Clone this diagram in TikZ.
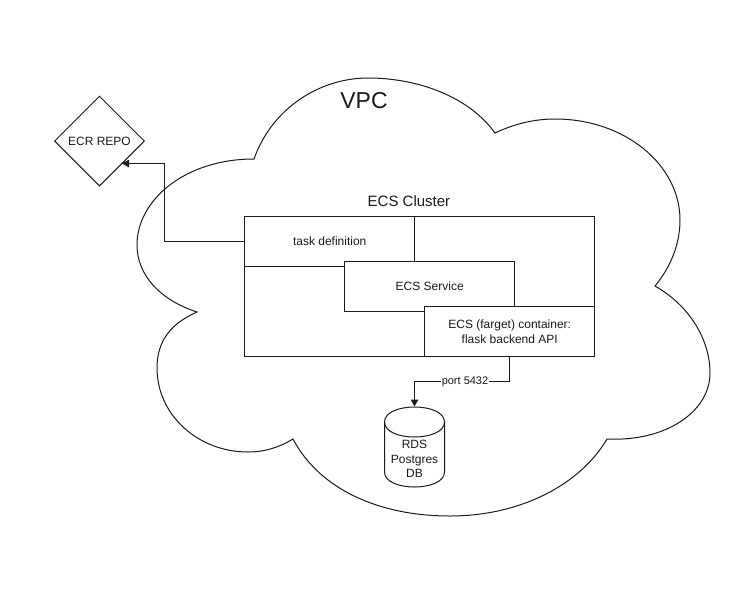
\documentclass[tikz,border=0pt]{standalone}
\usepackage{fontspec}
\setmainfont{Liberation Sans}
\usetikzlibrary{arrows.meta,shapes.geometric}
\definecolor{ink}{HTML}{1A1A1A}
\tikzset{
 x=1pt,y=-1pt,
 line/.style={draw=ink,line width=1pt},
 box/.style={line,fill=white,inner sep=0pt,text=ink,font=\fontsize{12}{15}\selectfont,align=center},
 lbl/.style={inner sep=0pt,text=ink},
 tip/.style={-{Triangle[length=7pt,width=7.5pt]}}
}
\begin{document}
\begin{tikzpicture}
\useasboundingbox (0,0) rectangle (737,598);
% cloud
\draw[line] (254,159)
 .. controls (272,108) and (320,78) .. (368,78)
 .. controls (420,78) and (470,98) .. (495,133)
 .. controls (514,124) and (534,119) .. (555,119)
 .. controls (625,119) and (680,165) .. (680,220)
 .. controls (680,245) and (670,268) .. (655,286)
 .. controls (690,306) and (710,340) .. (710,373)
 .. controls (710,412) and (665,442) .. (607,439)
 .. controls (580,485) and (520,516) .. (450,516)
 .. controls (380,516) and (320,490) .. (293,439)
 .. controls (280,447) and (265,452) .. (248,452)
 .. controls (198,452) and (157,415) .. (157,368)
 .. controls (157,340) and (172,323) .. (197,312)
 .. controls (160,300) and (137,275) .. (137,245)
 .. controls (137,200) and (185,159) .. (254,159) -- cycle;
\node[lbl,font=\fontsize{23}{26}\selectfont] (vpc) at (364,101) {VPC};
\node[lbl,font=\fontsize{15}{18}\selectfont] (clusterlabel) at (409,201.5) {ECS Cluster};
% cluster
\node[box,minimum width=350pt,minimum height=140pt,anchor=north west] (cluster) at (244.2,216) {};
\node[box,minimum width=170pt,minimum height=50pt,anchor=north west] (task) at (244.2,216) {task definition};
\node[box,minimum width=170pt,minimum height=50pt,anchor=north west] (service) at (344.2,261) {ECS Service};
\node[box,minimum width=170pt,minimum height=50pt,anchor=north west] (container) at (424.2,306) {ECS (farget) container:\\flask backend API};
% ecr
\node[diamond,line,minimum width=90pt,minimum height=90pt,inner sep=0pt,text=ink,font=\fontsize{12}{15}\selectfont] (ecr) at (99.5,141) {ECR REPO};
% db
\draw[line] (384.5,422) .. controls (384.5,402) and (444.5,402) .. (444.5,422)
 -- (444.5,472) .. controls (444.5,492) and (384.5,492) .. (384.5,472) -- cycle;
\draw[line] (444.5,422) .. controls (444.5,442) and (384.5,442) .. (384.5,422);
\node[lbl,font=\fontsize{12}{14.5}\selectfont,align=center] (db) at (414.5,459) {RDS\\Postgres\\DB};
% connectors
\coordinate (ecrtip) at (122,163.5);
\coordinate (ecrbend) at (164.5,163.5);
\draw[line,tip] (task.west) -| (ecrbend) -- (ecrtip);
\coordinate (dbtop) at (414.5,406.5);
\coordinate (dbbend) at (414.5,381.5);
\coordinate (contout) at (509.5,356);
\draw[line,tip] (contout) |- (dbbend) -- (dbtop);
\node[lbl,fill=white,font=\fontsize{11}{13}\selectfont,inner xsep=0.5pt] (port) at (465,382) {port 5432};
\end{tikzpicture}
\end{document}
